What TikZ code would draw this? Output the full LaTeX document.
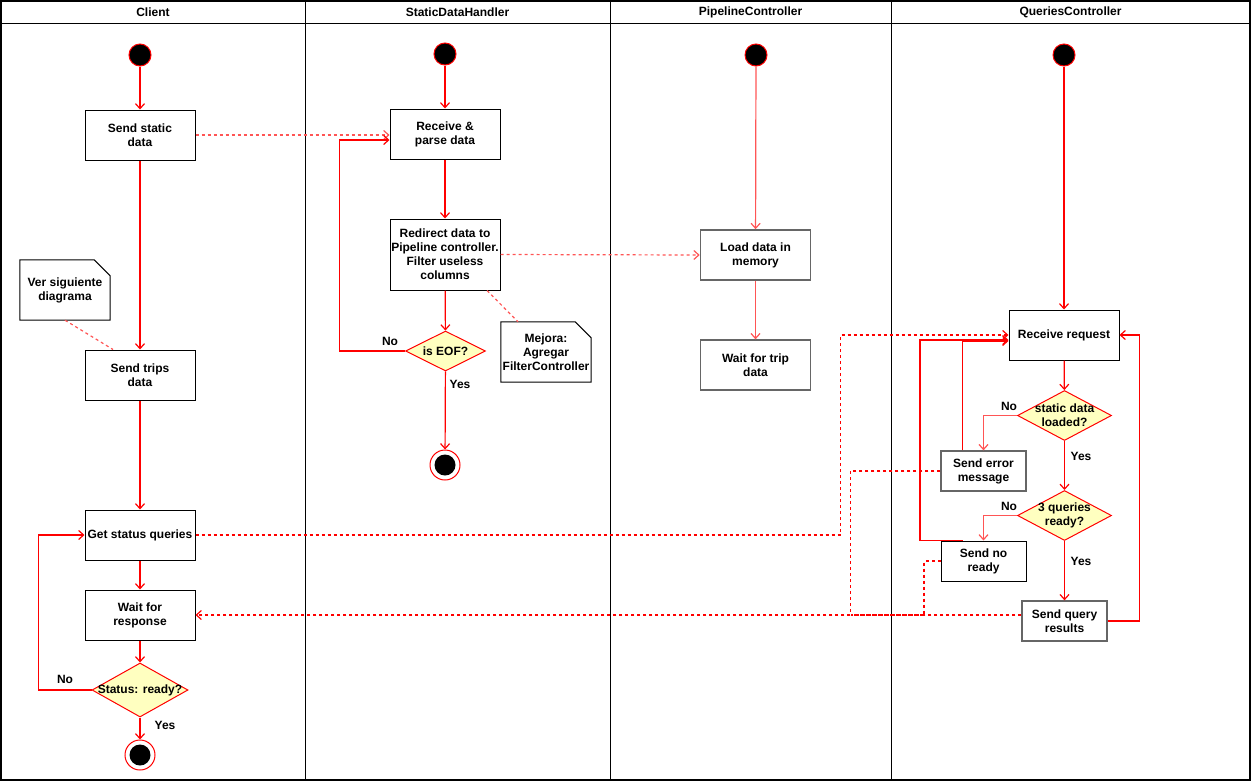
\documentclass[tikz,border=0pt]{standalone}
\usepackage{fontspec}
\setmainfont{Liberation Sans}
\usetikzlibrary{arrows.meta,shapes.geometric}

\definecolor{decisionfill}{HTML}{FFFFC0}
\definecolor{softred}{HTML}{FF5555}
\definecolor{boxgray}{HTML}{666666}

\begin{document}
\begin{tikzpicture}[x=1pt, y=-1pt, font=\fontsize{12}{14}\selectfont\bfseries,
    action/.style={draw, line width=1pt, minimum width=110pt, minimum height=50pt, align=center, inner sep=0pt},
    smallaction/.style={action, minimum width=85pt, minimum height=40pt},
    decision/.style={diamond, draw=red, fill=decisionfill, line width=1pt, inner sep=0pt},
    start/.style={circle, draw=red, fill=black, line width=1pt, minimum size=22pt, inner sep=0pt},
    stop/.style={circle, draw=red, fill=white, line width=1pt, minimum size=30pt, inner sep=0pt,
        path picture={\fill[black] (path picture bounding box.center) circle (10.5pt);}},
    note/.style={minimum width=90pt, minimum height=60pt, align=center, inner sep=0pt},
    flow/.style={draw=red, line width=1.2pt, -{Straight Barb[length=5pt,width=9pt]}},
    msg/.style={flow, dashed},
    link/.style={draw=red, dashed, line width=1.2pt}]

    \useasboundingbox (0,0) rectangle (1252,782);

    % Frame and lanes
    \draw[line width=1.3pt] (1,1) rectangle (1250,780);
    \draw[line width=1pt] (1,23) -- (1250,23);
    \foreach \x in {305, 610, 891} {
        \draw[line width=1pt] (\x,1) -- (\x,780);
    }

    % Lane titles
    \foreach \l/\cx/\title in {client/153/Client, handler/457.5/StaticDataHandler, pipeline/750.5/PipelineController, queries/1070.5/QueriesController} {
        \node (\l) at (\cx,12) {\title};
    }

    % Client
    \node[start] (c0) at (140,55) {};
    \node[action] (sendstatic) at (140,135) {Send static\\data};
    \node[action] (sendtrips) at (140,375) {Send trips\\data};
    \node[action] (getstatus) at (140,535) {Get status queries};
    \node[action] (waitresp) at (140,615) {Wait for\\response};
    \node[decision, minimum width=96pt, minimum height=54pt, label=center:{Status: ready?}] (ready) at (140,690) {};
    \node[stop] (cend) at (140,755) {};
    \node[note] (seenext) at (65,290) {Ver siguiente\\diagrama};
    \draw[line width=1pt] (seenext.north west) -- ([xshift=-16pt]seenext.north east) -- ([yshift=-16pt]seenext.north east) -- (seenext.south east) -- (seenext.south west) -- cycle;
    \node (noready) at (65,679) {No};
    \node (yesready) at (165,725) {Yes};

    % StaticDataHandler
    \node[start] (s0) at (445,54) {};
    \node[action] (receive) at (445,134) {Receive \&\\parse data};
    \node[action, minimum height=71pt] (redirect) at (445,254.5) {Redirect data to\\Pipeline controller.\\Filter useless\\columns};
    \node[decision, minimum width=80pt, minimum height=40pt, label=center:{is EOF?}] (eof) at (445.5,351) {};
    \node[stop] (send) at (445,465) {};
    \node[note] (improve) at (546,352) {Mejora:\\Agregar\\FilterController};
    \draw[line width=1pt] (improve.north west) -- ([xshift=-16pt]improve.north east) -- ([yshift=-16pt]improve.north east) -- (improve.south east) -- (improve.south west) -- cycle;
    \node (noeof) at (390,341) {No};
    \node (yeseof) at (460,384) {Yes};

    % PipelineController
    \node[start] (p0) at (756,55) {};
    \node[action, draw=boxgray, line width=1.6pt] (loaddata) at (755.5,255) {Load data in\\memory};
    \node[action, draw=boxgray, line width=1.3pt] (waittrip) at (755.5,365) {Wait for trip\\data};

    % QueriesController
    \node[start] (q0) at (1064,55) {};
    \node[action] (request) at (1064,335) {Receive request};
    \node[decision, minimum width=94pt, minimum height=50pt, label={[align=center]center:static data\\loaded?}] (loaded) at (1064.5,415.5) {};
    \node[smallaction, draw=boxgray, line width=1.3pt] (senderror) at (983.5,471) {Send error\\message};
    \node[decision, minimum width=94pt, minimum height=50pt, label={[align=center]center:3 queries\\ready?}] (three) at (1064.5,515.5) {};
    \node[smallaction] (sendnotready) at (983.5,561) {Send no\\ready};
    \node[smallaction, draw=boxgray, line width=1.3pt] (results) at (1064.5,621) {Send query\\results};
    \node (noloaded) at (1009,406) {No};
    \node (yesloaded) at (1081,456) {Yes};
    \node (nothree) at (1009,506) {No};
    \node (yesthree) at (1081,561) {Yes};
    \coordinate (join) at (850.5,615);

    % Client flow
    \path[flow] (c0) -- (sendstatic);
    \path[flow] (sendstatic) -- (sendtrips);
    \path[flow] (sendtrips) -- (getstatus);
    \path[flow] (getstatus) -- (waitresp);
    \path[flow] (waitresp) -- (ready);
    \path[flow] (ready) -- (cend);
    \path[flow] (ready.west) -- ++(-53,0) |- (getstatus.west);
    \path[link, draw=softred] (seenext.south) -- ([xshift=-27pt]sendtrips.north);

    % Handler flow
    \path[flow] (s0) -- (receive);
    \path[msg, draw=softred] (sendstatic.east) -- (sendstatic.east -| receive.west);
    \path[flow] (receive) -- (redirect);
    \path[flow] (redirect) -- (eof);
    \path[flow] (eof.west) -- ++(-65.5,0) |- ([yshift=-6pt]receive.west);
    \path[flow] (eof) -- (send);
    \path[link, draw=softred] ([xshift=42pt]redirect.south) -- ([xshift=-28pt]improve.north);
    \path[msg, draw=softred] (redirect.east) -- (loaddata.west);

    % Pipeline flow
    \path[flow, draw=softred] (p0) -- (loaddata);
    \path[flow, draw=softred] (loaddata) -- (waittrip);

    % Queries flow
    \path[flow] (q0) -- (request);
    \path[flow] (request) -- (loaded);
    \path[flow, draw=softred] (loaded.west) -| (senderror.north);
    \path[flow] (loaded) -- (three);
    \path[flow, draw=softred] (three.west) -| (sendnotready.north);
    \path[flow] (three) -- (results);
    \path[flow] ([xshift=-21pt]senderror.north) |- ([yshift=-6pt]request.west);
    \path[flow] ([xshift=-21pt]sendnotready.north) -- ++(-42.5,0) |- ([yshift=-5pt]request.west);
    \path[flow] (results.east) -- ++(32,0) |- (request.east);

    % Messages between lanes
    \path[msg] (getstatus.east) -- ++(645,0) |- (request.west);
    \path[msg] (senderror.west) -| (join) -- (waitresp.east);
    \path[link] (sendnotready.west) -- ++(-16.5,0) |- (join);
    \path[link] ([yshift=6pt]results.west) -- (join);

\end{tikzpicture}
\end{document}
